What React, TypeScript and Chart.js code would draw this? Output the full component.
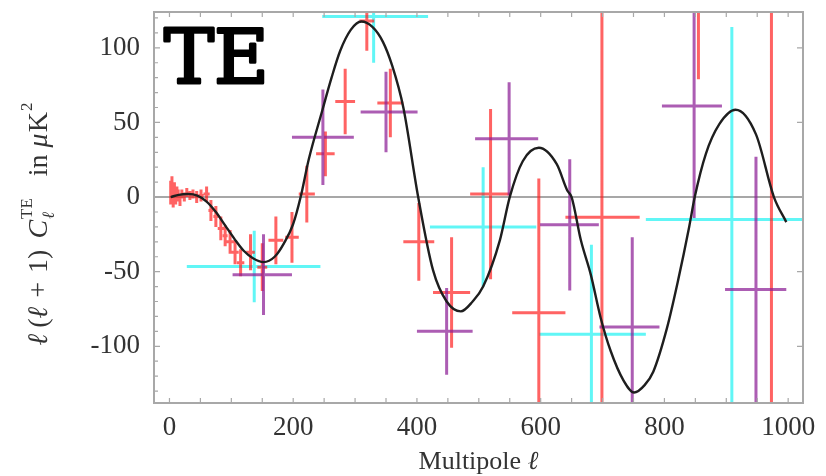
import React, { useEffect, useRef } from "react";
import { Chart, registerables } from "chart.js";

Chart.register(...registerables);

// Theory curve (multipole, value)
const curveL = [2, 15, 30, 45, 60, 75, 90, 105, 120, 135, 152, 170, 185, 200, 212, 225, 247, 262, 276, 293, 310, 328, 345, 360, 378, 402, 426, 448, 471, 490, 507, 534, 550, 571, 597, 626, 643, 650, 665, 681, 697, 713, 734, 751, 768, 782, 804, 822, 840, 849, 867, 889, 915, 948, 977, 997];
const curveV = [0, 1.5, 2, 1, -3, -10, -19, -28, -36, -41, -43.6, -40, -31, -18, 0, 25, 58, 80, 98, 112, 117.6, 114, 104, 88, 60, 0, -49, -70, -76.6, -70, -60, -29, 0, 24, 33, 22, 4.4, 0, -29, -52, -81, -103, -123, -131, -126, -117, -88, -56, -20, 0, 29, 49, 58.5, 42, 0, -16.8];

// Red points
const redL = [2, 4, 6, 8, 10, 12, 14, 17, 20, 24, 28, 33, 38, 44, 51, 60, 67, 75, 83, 90, 98, 106, 115, 131, 150, 172, 198, 222, 252, 284, 319, 357, 403, 456, 519, 597, 699, 855, 973];
const redV = [3, 7, -1, 5, 0, 3, 1, -2, 2, 0, 3, 1, 2, 0, 1, 2, -9, -13, -21, -26, -30, -37, -44, -37, -47, -29, -27, 2, 29, 64, 118, 63, -30, -64, 2, -77.5, -13.5, 165, 150];
const redLo = [1.5, 3.5, 5.5, 7.5, 9.5, 11, 13, 16, 19, 22, 26, 31, 36, 41, 47, 55, 63, 71, 78, 86, 92, 100, 109, 124, 142, 160, 187, 209, 237, 268, 307, 336, 378, 426, 486, 554, 640, 830, 960];
const redHi = [2.5, 4.5, 6.5, 8.5, 10.5, 13, 15, 18, 21, 26, 30, 35, 40, 47, 55, 65, 71, 79, 88, 94, 104, 112, 121, 138, 158, 184, 209, 235, 267, 300, 331, 378, 428, 486, 552, 640, 760, 880, 990];
const redErr = [8, 7, 6, 5, 5, 4, 4, 4, 3, 3, 3, 3, 3, 4, 4, 5, 7, 7, 8, 7, 8, 8, 9, 12, 16, 16, 17, 19, 15, 22, 20, 23, 26, 37, 57, 90, 250, 86, 400];

// Cyan points
const cyanL = [137, 330, 507, 682, 909];
const cyanV = [-46.5, 121, -20, -92, -15];
const cyanLo = [28, 247, 421, 598, 770];
const cyanHi = [244, 418, 593, 770, 1050];
const cyanErr = [24, 31, 40, 60, 129];

// Purple points
const purpL = [152, 248, 350, 448, 549, 647, 748, 848, 948];
const purpV = [-52, 40, 57, -90, 39, -18.6, -87, 61, -62];
const purpLo = [102, 198, 309, 400, 494, 599, 695, 796, 898];
const purpHi = [198, 298, 401, 490, 596, 694, 792, 893, 997];
const purpErr = [27, 32, 27, 29, 38, 44, 60, 75, 89];

const xTickLabels = [0, 200, 400, 600, 800, 1000];
const yTickLabels = [-100, -50, 0, 50, 100];

const FRAME = "#a8a8a8";
const TEXT = "#333";

function crosses(L: number[], V: number[], lo: number[], hi: number[], err: number[]) {
  const pts: { x: number; y: number | null }[] = [];
  for (let i = 0; i < L.length; i++) {
    pts.push({ x: lo[i], y: V[i] }, { x: hi[i], y: V[i] }, { x: L[i], y: null });
    pts.push({ x: L[i], y: V[i] - err[i] }, { x: L[i], y: V[i] + err[i] }, { x: L[i], y: null });
  }
  return pts;
}

const decorPlugin = {
  id: "decor",
  beforeDatasetsDraw(chart: any) {
    const { ctx, chartArea: a, scales } = chart;
    const y0 = scales.y.getPixelForValue(0);
    ctx.save();
    ctx.strokeStyle = "#8a8a8a";
    ctx.lineWidth = 1.5;
    ctx.beginPath();
    ctx.moveTo(a.left, y0);
    ctx.lineTo(a.right, y0);
    ctx.stroke();
    ctx.restore();
  },
  afterDraw(chart: any) {
    const { ctx, chartArea: a, scales } = chart;
    const xs = scales.x, ys = scales.y;
    ctx.save();
    // frame
    ctx.strokeStyle = FRAME;
    ctx.lineWidth = 2;
    ctx.strokeRect(a.left, a.top, a.right - a.left, a.bottom - a.top);
    // ticks
    ctx.lineWidth = 1.2;
    ctx.beginPath();
    for (let v = 0; v <= 1000; v += 50) {
      const px = xs.getPixelForValue(v);
      ctx.moveTo(px, a.bottom); ctx.lineTo(px, a.bottom - 5);
      ctx.moveTo(px, a.top); ctx.lineTo(px, a.top + 5);
    }
    for (let v = -130; v <= 120; v += 10) {
      const py = ys.getPixelForValue(v);
      const len = v % 50 === 0 ? 6 : 4;
      ctx.moveTo(a.left, py); ctx.lineTo(a.left + len, py);
      if (v % 50 === 0) { ctx.moveTo(a.right, py); ctx.lineTo(a.right - 6, py); }
    }
    ctx.stroke();

    // TE label
    ctx.fillStyle = "#000";
    ctx.strokeStyle = "#000";
    ctx.lineWidth = 3;
    ctx.lineJoin = "round";
    ctx.font = '75px "DejaVu Serif"';
    ctx.textBaseline = "alphabetic";
    ctx.textAlign = "left";
    ctx.fillText("TE", a.left + 10, 83);
    ctx.strokeText("TE", a.left + 10, 83);

    // x title
    ctx.fillStyle = TEXT;
    ctx.textBaseline = "middle";
    const t1 = "Multipole ";
    ctx.font = 'italic 26px "Liberation Serif"';
    const wl = ctx.measureText("ℓ").width;
    ctx.font = '26px "Liberation Serif"';
    const w1 = ctx.measureText(t1).width;
    const cx = (a.left + a.right) / 2;
    const sx = cx - (w1 + wl) / 2;
    ctx.fillText(t1, sx, 462);
    ctx.font = 'italic 26px "Liberation Serif"';
    ctx.fillText("ℓ", sx + w1, 462);

    // y title (rotated)
    ctx.translate(40, 224);
    ctx.rotate(-Math.PI / 2);
    type P = { t: string; f: string; dy: number; gap?: number };
    const F = '"Liberation Serif"';
    const pieces: P[] = [
      { t: "ℓ", f: `italic 28px ${F}`, dy: 0, gap: 6 },
      { t: "(", f: `28px ${F}`, dy: 0 },
      { t: "ℓ", f: `italic 28px ${F}`, dy: 0, gap: 9 },
      { t: "+", f: `28px ${F}`, dy: 0, gap: 9 },
      { t: "1", f: `28px ${F}`, dy: 0 },
      { t: ")", f: `28px ${F}`, dy: 0, gap: 11 },
      { t: "C", f: `italic 28px ${F}`, dy: 0, gap: 1 },
      { t: "TE", f: `17px ${F}`, dy: -12, gap: 22 },
      { t: "in", f: `28px ${F}`, dy: 0, gap: 7 },
      { t: "μ", f: `italic 28px ${F}`, dy: 0, gap: 1 },
      { t: "K", f: `28px ${F}`, dy: 0, gap: 1 },
      { t: "2", f: `17px ${F}`, dy: -12 },
    ];
    let total = 0;
    const widths: number[] = [];
    for (const p of pieces) {
      ctx.font = p.f;
      const w = ctx.measureText(p.t).width;
      widths.push(w);
      total += w + (p.gap || 0);
    }
    let px = -total / 2;
    ctx.textBaseline = "middle";
    pieces.forEach((p, i) => {
      ctx.font = p.f;
      ctx.fillText(p.t, px, p.dy);
      if (p.t === "TE") {
        ctx.font = `italic 17px ${F}`;
        ctx.fillText("ℓ", px, 10);
      }
      px += widths[i] + (p.gap || 0);
    });
    ctx.restore();
  },
};

export default function App() {
  const ref = useRef<HTMLCanvasElement>(null);
  useEffect(() => {
    document.body.style.margin = "0";
    const canvas = ref.current!;
    const base = { showLine: true, pointRadius: 0, pointHoverRadius: 0, spanGaps: false, fill: false, borderWidth: 3 };
    const chart = new Chart(canvas, {
      type: "scatter",
      data: {
        datasets: [
          {
            ...base,
            data: curveL.map((l, i) => ({ x: l, y: curveV[i] })),
            borderColor: "#1e1e1e",
            borderWidth: 2.4,
            cubicInterpolationMode: "monotone",
            order: 0,
          },
          { ...base, data: crosses(purpL, purpV, purpLo, purpHi, purpErr), borderColor: "rgba(140,30,150,0.72)", order: 1 },
          { ...base, data: crosses(redL, redV, redLo, redHi, redErr), borderColor: "rgba(255,25,25,0.68)", order: 2 },
          { ...base, data: crosses(cyanL, cyanV, cyanLo, cyanHi, cyanErr), borderColor: "rgba(0,240,240,0.62)", order: 3 },
        ] as any,
      },
      options: {
        animation: false,
        responsive: false,
        devicePixelRatio: 1,
        layout: { padding: { top: 12, right: 23, left: 0, bottom: 0 } },
        plugins: { legend: { display: false }, tooltip: { enabled: false } },
        events: [],
        scales: {
          x: {
            type: "linear",
            min: -25,
            max: 1024,
            grid: { display: false, drawTicks: false },
            border: { display: false },
            ticks: { color: TEXT, font: { family: "Liberation Serif", size: 27 }, padding: 9, maxRotation: 0, autoSkip: false, callback: (v: any) => String(v) },
            afterBuildTicks: (s: any) => { s.ticks = xTickLabels.map((v) => ({ value: v })); },
            afterFit: (s: any) => { s.height = 73; s.paddingLeft = 0; s.paddingRight = 0; },
          },
          y: {
            type: "linear",
            min: -138,
            max: 124,
            grid: { display: false, drawTicks: false },
            border: { display: false },
            ticks: { color: TEXT, font: { family: "Liberation Serif", size: 27 }, padding: 14, autoSkip: false, callback: (v: any) => String(v) },
            afterBuildTicks: (s: any) => { s.ticks = yTickLabels.map((v) => ({ value: v })); },
            afterFit: (s: any) => { s.width = 154; s.paddingTop = 0; s.paddingBottom = 0; },
          },
        },
      } as any,
      plugins: [decorPlugin],
    });
    return () => chart.destroy();
  }, []);
  return <canvas ref={ref} width={826} height={476} style={{ display: "block" }} />;
}
